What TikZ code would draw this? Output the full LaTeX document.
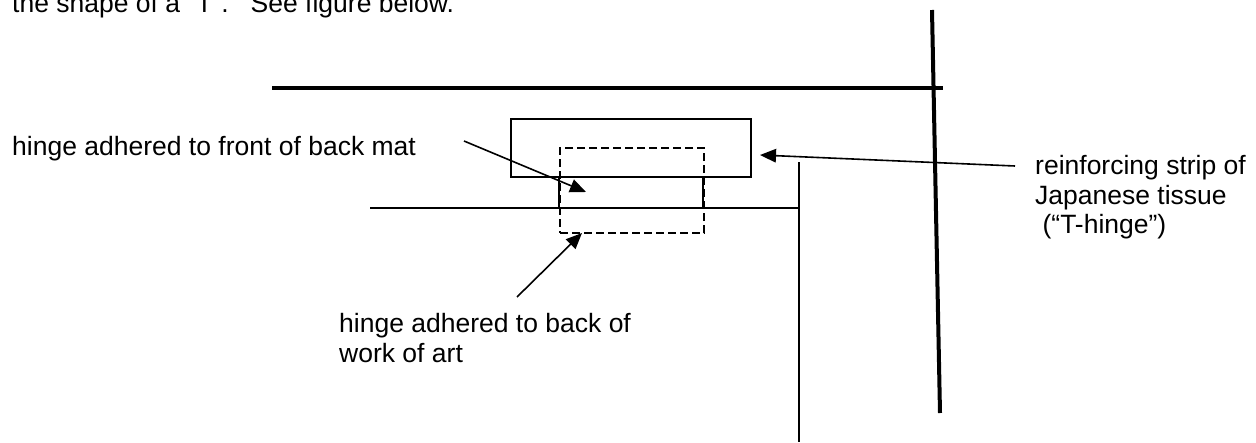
\documentclass[tikz,border=0pt]{standalone}
\usepackage{fontspec}
\setmainfont{Liberation Sans}
\usetikzlibrary{arrows.meta}
\begin{document}
\begin{tikzpicture}[x=1pt,y=-1pt,
  lbl/.style={inner sep=0pt, align=left, font=\fontsize{26.5}{29.5}\selectfont},
  thickline/.style={line width=4pt},
  thinline/.style={line width=2.4pt},
  pointer/.style={line width=1.6pt, -{Triangle[length=16pt,width=13.5pt]}},
  box/.style={draw, line width=1.5pt, inner sep=0pt, anchor=north west},
  dashbox/.style={draw, line width=2pt, dash pattern=on 8pt off 4pt, inner sep=0pt, anchor=north west}]
\useasboundingbox (0,0) rectangle (1256,442);
\clip (0,0) rectangle (1256,442);
\fill[white] (0,0) rectangle (1256,442);

% top text (cut off at the top edge, as in the reference)
\node[lbl, anchor=base west] (toptext) at (12,12) {the shape of a “T”.\hspace{22pt}See figure below.};

% mat / frame lines
\coordinate (v1top) at (932,10);
\coordinate (v1bot) at (940,413);
\draw[thickline] (v1top) -- (v1bot);
\coordinate (h1l) at (272,88);
\coordinate (h1r) at (943,88);
\draw[thickline] (h1l) -- (h1r);
\coordinate (h2l) at (370,208);
\coordinate (h2r) at (799,208);
\draw[thinline] (h2l) -- (h2r);
\coordinate (v2top) at (799,162);
\coordinate (v2bot) at (799,442);
\draw[line width=2pt] (v2top) -- (v2bot);

% reinforcing strip and hinge
\node[box, minimum width=240pt, minimum height=58pt] (strip) at (510,118) {};
\node[dashbox, minimum width=144pt, minimum height=85pt] (hinge) at (559,147) {};
\coordinate (sl1) at (559,176); \coordinate (sl2) at (559,208);
\coordinate (sr1) at (703,176); \coordinate (sr2) at (703,208);
\draw[line width=2pt] (sl1) -- (sl2);
\draw[line width=2pt] (sr1) -- (sr2);

% labels
\node[lbl, anchor=base west] (matlbl) at (12,155) {hinge adhered to front of back mat};
\node[lbl, anchor=north west] (artlbl) at (339,313.5) {hinge adhered to back of\\work of art};
\node[lbl, anchor=north west] (striplbl) at (1035,155.5) {reinforcing strip of\\Japanese tissue\\\hspace*{7.4pt}(“T-hinge”)};

% pointers
\coordinate (p1s) at (464,141); \coordinate (p1e) at (586,192);
\coordinate (p2s) at (517,297); \coordinate (p2e) at (582,233);
\coordinate (p3s) at (1015,166); \coordinate (p3e) at (760,155);
\draw[pointer] (p1s) -- (p1e);
\draw[pointer] (p2s) -- (p2e);
\draw[pointer] (p3s) -- (p3e);
\end{tikzpicture}
\end{document}
